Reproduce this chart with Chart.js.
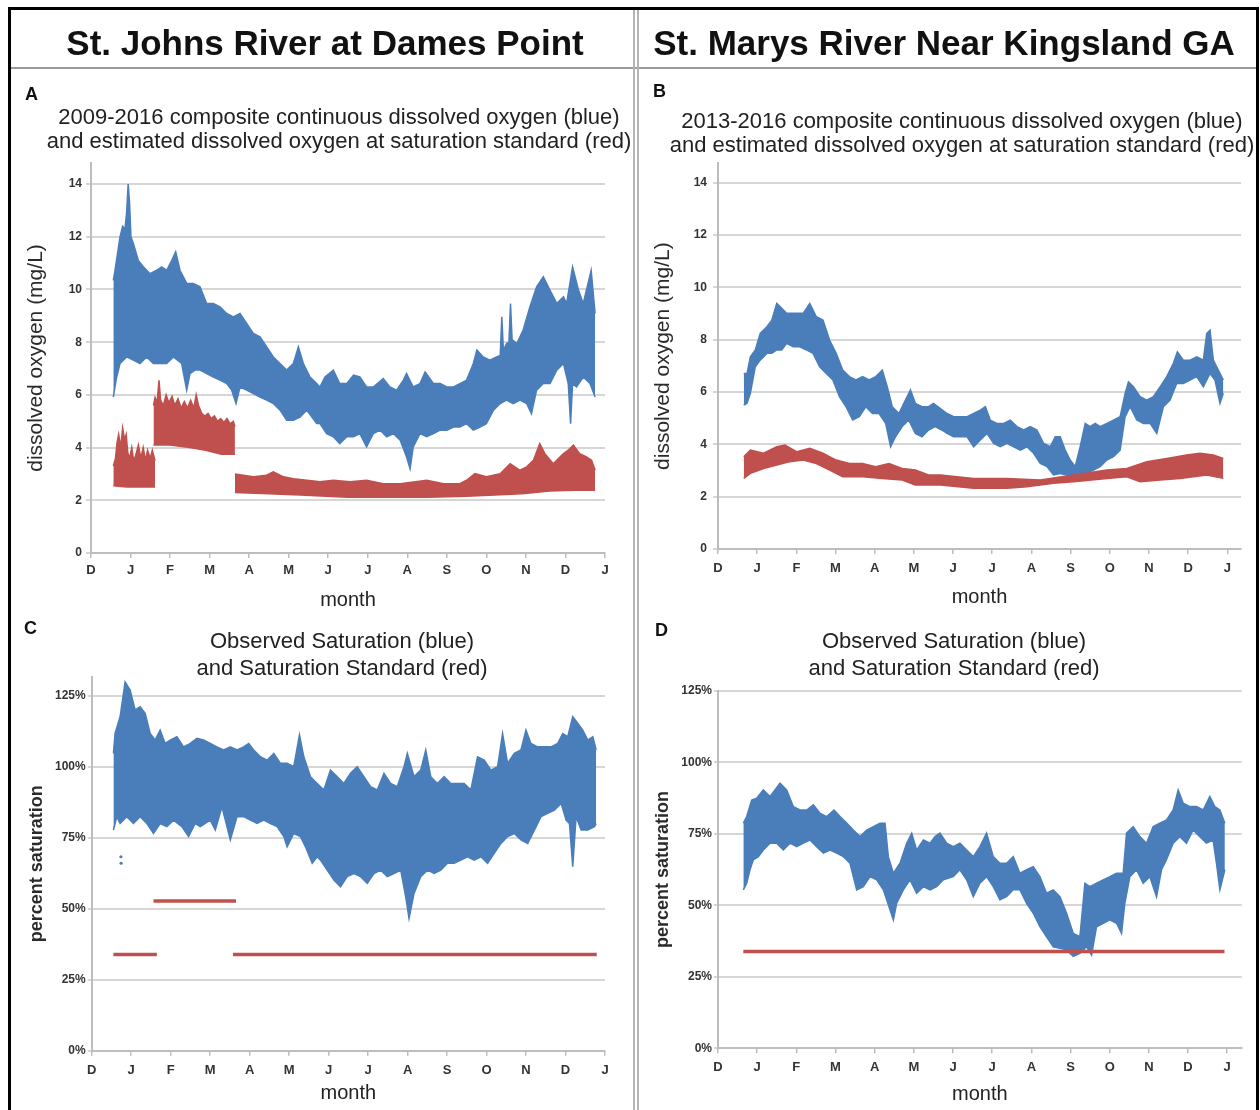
<!DOCTYPE html>
<html lang="en">
<head>
<meta charset="utf-8">
<title>Dissolved oxygen: St. Johns River and St. Marys River</title>
<script src="https://cdn.jsdelivr.net/npm/chart.js@4.4.1/dist/chart.umd.min.js"></script>
<style>
  html, body { margin: 0; padding: 0; background: #fff; }
  #figure { position: relative; width: 1260px; height: 1110px; overflow: hidden; background: #fff;
            font-family: 'Liberation Sans', Arial, Helvetica, sans-serif; color: #1a1a1a; }
  #figure canvas { position: absolute; }
  .frame { position: absolute; left: 8px; top: 7px; width: 1251px; height: 1130px; border: 3px solid #000; box-sizing: border-box; }
  .rule-h { position: absolute; left: 11px; top: 67px; width: 1245px; height: 2px; background: #9a9a9a; }
  .rule-v { position: absolute; top: 10px; width: 2px; height: 1110px; background: #b4b4b4; }
  .station { position: absolute; top: 23px; width: 600px; text-align: center; font-size: 35px; line-height: 40px;
             font-weight: bold; color: #111; white-space: nowrap; }
  .tag { position: absolute; font-size: 18px; line-height: 20px; font-weight: bold; color: #111; }
  .caption { position: absolute; width: 640px; text-align: center; font-size: 22px; color: #222; white-space: nowrap; }
</style>
</head>
<body>
<div id="figure">
  <canvas id="panelA" width="625" height="465" style="left:10px;top:150px"></canvas>
  <canvas id="panelB" width="620" height="465" style="left:640px;top:150px"></canvas>
  <canvas id="panelC" width="625" height="470" style="left:10px;top:640px"></canvas>
  <canvas id="panelD" width="620" height="470" style="left:640px;top:640px"></canvas>

  <div class="frame"></div>
  <div class="rule-h"></div>
  <div class="rule-v" style="left:633px"></div>
  <div class="rule-v" style="left:637px"></div>

  <div class="station" style="left:25px">St. Johns River at Dames Point</div>
  <div class="station" style="left:644px">St. Marys River Near Kingsland GA</div>

  <div class="tag" style="left:25px;top:84px">A</div>
  <div class="tag" style="left:653px;top:81px">B</div>
  <div class="tag" style="left:24px;top:618px">C</div>
  <div class="tag" style="left:655px;top:620px">D</div>

  <div class="caption" style="left:19px;top:105px;line-height:24px">2009-2016 composite continuous dissolved oxygen (blue)<br>and estimated dissolved oxygen at saturation standard (red)</div>
  <div class="caption" style="left:642px;top:109px;line-height:24px">2013-2016 composite continuous dissolved oxygen (blue)<br>and estimated dissolved oxygen at saturation standard (red)</div>
  <div class="caption" style="left:22px;top:627px;line-height:27px">Observed Saturation (blue)<br>and Saturation Standard (red)</div>
  <div class="caption" style="left:634px;top:627px;line-height:27px">Observed Saturation (blue)<br>and Saturation Standard (red)</div>
</div>

<script>
// Month axis: position 0 = start of December, 13 = start of the following January
const monthLabels = ['D', 'J', 'F', 'M', 'A', 'M', 'J', 'J', 'A', 'S', 'O', 'N', 'D', 'J'];
const doTickValues = [0, 2, 4, 6, 8, 10, 12, 14];
const pctTickValues = [0, 25, 50, 75, 100, 125];

// ---- St. Johns River at Dames Point: dissolved oxygen (mg/L), [month, value] ----
const stJohnsDoHigh = [
  [0.565,10.35],[0.607,10.73],[0.734,12.0],[0.80,12.4],[0.86,12.3],[0.90,12.9],[0.94,14.0],[0.975,13.3],[1.01,12.0],
  [1.071,11.75],[1.197,11.1],[1.324,10.86],[1.492,10.6],[1.661,10.73],[1.788,10.86],[1.914,10.73],[2.04,11.1],
  [2.142,11.43],[2.251,10.73],[2.42,10.23],[2.589,10.23],[2.757,10.1],[2.926,9.47],[3.094,9.47],[3.263,9.34],
  [3.432,9.09],[3.6,8.96],[3.769,9.09],[3.938,8.71],[4.106,8.33],[4.275,8.2],[4.444,7.82],[4.612,7.44],[4.781,7.19],
  [4.949,6.94],[5.118,7.19],[5.245,7.82],[5.371,7.19],[5.54,6.68],[5.708,6.43],[5.79,6.3],[5.917,6.68],[6.13,6.94],
  [6.29,6.43],[6.47,6.43],[6.64,6.75],[6.8,6.68],[6.97,6.3],[7.14,6.3],[7.39,6.62],[7.56,6.3],[7.73,6.18],[7.9,6.56],
  [7.98,6.81],[8.15,6.3],[8.32,6.43],[8.45,6.87],[8.66,6.43],[8.83,6.43],[9.0,6.3],[9.17,6.3],[9.33,6.43],[9.5,6.56],
  [9.67,7.19],[9.76,7.7],[9.92,7.44],[10.09,7.32],[10.26,7.44],[10.35,7.5],[10.39,8.96],[10.43,7.7],[10.51,7.95],
  [10.57,8.0],[10.61,9.47],[10.65,8.1],[10.77,7.95],[10.93,8.46],[11.1,9.34],[11.27,10.1],[11.44,10.48],[11.61,9.97],
  [11.78,9.47],[11.95,9.72],[12.03,9.47],[12.18,10.86],[12.33,9.97],[12.45,9.47],[12.65,10.73],[12.75,9.09]
];
const stJohnsDoLow = [
  [0.565,5.92],[0.649,6.68],[0.734,7.19],[0.902,7.44],[1.071,7.32],[1.239,7.19],[1.408,7.44],[1.577,7.19],[1.745,7.19],
  [1.914,7.19],[2.083,7.44],[2.293,7.19],[2.42,6.18],[2.504,6.81],[2.63,6.94],[2.757,6.94],[2.926,6.81],[3.094,6.68],
  [3.263,6.56],[3.432,6.43],[3.558,6.18],[3.668,5.67],[3.769,6.3],[3.938,6.18],[4.106,6.05],[4.275,5.92],[4.444,5.8],
  [4.612,5.67],[4.781,5.42],[4.949,5.04],[5.118,5.04],[5.287,5.16],[5.455,5.42],[5.708,4.91],[5.79,4.91],[5.96,4.53],
  [6.13,4.41],[6.29,4.15],[6.47,4.41],[6.64,4.41],[6.8,4.53],[6.97,4.03],[7.14,4.53],[7.31,4.66],[7.48,4.41],[7.65,4.53],
  [7.82,4.28],[7.98,3.65],[8.07,3.2],[8.15,4.03],[8.32,4.53],[8.49,4.41],[8.66,4.53],[8.83,4.66],[9.0,4.66],[9.17,4.78],
  [9.33,4.78],[9.5,4.91],[9.67,4.66],[9.84,4.78],[10.0,4.91],[10.18,5.42],[10.35,5.67],[10.51,5.8],[10.68,5.67],
  [10.85,5.8],[11.02,5.67],[11.14,5.29],[11.27,6.18],[11.44,6.43],[11.61,6.43],[11.78,6.94],[11.95,7.19],[12.07,6.43],
  [12.13,4.91],[12.18,6.43],[12.28,6.3],[12.45,6.68],[12.62,6.43],[12.75,5.92]
];
// estimated DO at the saturation standard, three standard periods
const stJohnsStd1High = [
  [0.565,3.3],[0.62,3.6],[0.66,4.2],[0.70,4.5],[0.75,4.0],[0.80,4.75],[0.85,4.3],[0.89,4.5],[0.93,3.8],[0.98,3.6],
  [1.03,4.0],[1.08,3.5],[1.13,3.7],[1.20,4.1],[1.26,3.6],[1.32,4.0],[1.38,3.5],[1.43,3.9],[1.50,3.6],[1.55,3.9],[1.62,3.5]
];
const stJohnsStd1Low = [[0.565,2.55],[0.9,2.5],[1.3,2.5],[1.62,2.5]];
const stJohnsStd2High = [
  [1.58,5.6],[1.62,5.9],[1.67,5.7],[1.72,6.55],[1.76,5.8],[1.83,5.6],[1.9,6.0],[1.97,5.7],[2.05,5.95],[2.12,5.6],
  [2.2,5.85],[2.28,5.5],[2.36,5.75],[2.44,5.5],[2.52,5.8],[2.6,5.5],[2.66,6.0],[2.72,5.6],[2.8,5.3],[2.88,5.2],
  [2.96,5.3],[3.04,5.1],[3.12,5.2],[3.2,5.0],[3.28,5.1],[3.36,4.95],[3.44,5.1],[3.52,4.9],[3.6,5.0],[3.64,4.8]
];
const stJohnsStd2Low = [[1.58,4.1],[2.0,4.1],[2.5,4.0],[2.9,3.9],[3.3,3.75],[3.64,3.75]];
const stJohnsStd3High = [
  [3.64,3.0],[3.85,2.95],[4.11,2.89],[4.44,2.95],[4.61,3.08],[4.87,2.89],[5.12,2.82],[5.46,2.76],[5.79,2.7],[6.13,2.76],
  [6.55,2.7],[6.97,2.76],[7.39,2.63],[7.82,2.63],[8.49,2.76],[8.92,2.63],[9.33,2.63],[9.5,2.76],[9.71,3.01],[10.0,2.89],
  [10.35,3.01],[10.6,3.39],[10.85,3.14],[11.02,3.27],[11.19,3.52],[11.35,4.15],[11.48,3.77],[11.69,3.39],[11.95,3.77],
  [12.07,3.9],[12.2,4.09],[12.36,3.77],[12.53,3.65],[12.66,3.52],[12.75,3.14]
];
const stJohnsStd3Low = [
  [3.64,2.3],[4.5,2.25],[5.3,2.2],[6.5,2.12],[7.5,2.12],[8.5,2.12],[9.5,2.15],[10.2,2.2],[10.9,2.25],[11.6,2.35],
  [12.2,2.38],[12.75,2.38]
];

// ---- St. Marys River near Kingsland GA: dissolved oxygen (mg/L) ----
const stMarysDoHigh = [
  [0.657,6.71],[0.741,6.71],[0.826,7.35],[0.952,7.61],[1.078,8.24],[1.247,8.5],[1.373,8.75],[1.5,9.39],[1.626,9.2],
  [1.752,9.01],[1.921,9.01],[2.047,9.01],[2.174,9.01],[2.342,9.39],[2.511,8.88],[2.679,8.75],[2.848,7.99],[3.016,7.48],
  [3.184,6.84],[3.353,6.59],[3.521,6.46],[3.69,6.59],[3.858,6.46],[4.027,6.59],[4.195,6.84],[4.322,6.2],[4.448,5.44],
  [4.617,5.18],[4.785,5.69],[4.912,6.08],[5.038,5.57],[5.206,5.44],[5.375,5.44],[5.501,5.57],[5.67,5.38],[5.847,5.18],
  [6.017,5.06],[6.187,5.06],[6.357,5.06],[6.526,5.18],[6.696,5.31],[6.824,5.44],[6.951,4.93],[7.121,4.8],[7.291,4.8],
  [7.461,4.93],[7.631,4.68],[7.801,4.55],[7.971,4.68],[8.141,4.55],[8.311,4.04],[8.48,3.91],[8.608,4.29],[8.735,4.29],
  [8.863,3.78],[8.99,3.4],[9.118,3.15],[9.245,3.91],[9.373,4.8],[9.5,4.68],[9.628,4.8],[9.755,4.68],[9.925,4.8],
  [10.095,4.93],[10.265,5.06],[10.392,5.95],[10.477,6.39],[10.605,6.2],[10.775,5.82],[10.944,5.69],[11.114,5.82],
  [11.284,6.2],[11.454,6.59],[11.624,7.1],[11.726,7.54],[11.879,7.22],[12.049,7.22],[12.219,7.35],[12.389,7.22],
  [12.474,8.24],[12.559,8.37],[12.644,7.22],[12.771,6.84],[12.899,6.46]
];
const stMarysDoLow = [
  [0.657,5.5],[0.741,5.57],[0.826,5.95],[0.952,6.97],[1.078,7.22],[1.247,7.48],[1.373,7.48],[1.5,7.61],[1.626,7.61],
  [1.752,7.86],[1.921,7.73],[2.089,7.73],[2.258,7.61],[2.426,7.48],[2.595,6.97],[2.763,6.71],[2.932,6.46],[3.1,5.82],
  [3.269,5.44],[3.437,4.93],[3.606,5.06],[3.774,5.44],[3.943,5.18],[4.111,5.18],[4.28,4.8],[4.406,3.91],[4.532,4.29],
  [4.701,4.68],[4.869,4.93],[5.038,4.42],[5.206,4.29],[5.375,4.55],[5.543,4.68],[5.712,4.55],[5.847,4.42],[6.017,4.29],
  [6.187,4.29],[6.357,4.29],[6.526,3.91],[6.696,4.17],[6.866,4.42],[7.036,4.04],[7.206,3.91],[7.376,4.04],[7.546,3.91],
  [7.716,3.78],[7.886,3.91],[8.056,3.66],[8.226,3.27],[8.396,3.15],[8.565,2.83],[8.735,2.89],[8.905,2.83],[9.075,2.76],
  [9.245,2.83],[9.415,2.89],[9.585,3.02],[9.755,3.15],[9.925,3.4],[10.095,3.53],[10.265,3.78],[10.392,5.06],[10.52,5.44],
  [10.69,4.93],[10.86,4.8],[11.03,4.8],[11.2,4.42],[11.284,4.93],[11.369,5.44],[11.539,5.69],[11.709,6.33],[11.879,6.33],
  [12.049,6.46],[12.219,6.59],[12.389,6.2],[12.559,6.71],[12.686,6.46],[12.814,5.57],[12.899,5.95]
];
const stMarysStdHigh = [
  [0.657,3.53],[0.826,3.78],[1.163,3.66],[1.5,3.91],[1.71,3.97],[2.005,3.72],[2.342,3.85],[2.679,3.66],[3.016,3.4],
  [3.353,3.27],[3.69,3.27],[4.027,3.15],[4.364,3.27],[4.701,3.08],[5.038,3.02],[5.375,2.83],[5.677,2.83],[6.526,2.7],
  [7.376,2.7],[8.226,2.64],[9.075,2.83],[9.925,3.02],[10.435,3.08],[10.944,3.34],[11.454,3.46],[11.964,3.59],
  [12.304,3.66],[12.644,3.59],[12.899,3.46]
];
const stMarysStdLow = [
  [0.657,2.7],[0.826,2.89],[1.163,3.08],[1.5,3.21],[1.837,3.34],[2.174,3.4],[2.511,3.27],[2.848,3.02],[3.184,2.76],
  [3.69,2.76],[4.195,2.7],[4.701,2.64],[5.038,2.45],[5.375,2.45],[5.677,2.45],[6.526,2.32],[7.376,2.32],[7.886,2.38],
  [8.565,2.51],[9.075,2.57],[9.925,2.7],[10.435,2.76],[10.775,2.57],[11.284,2.64],[11.794,2.7],[12.474,2.83],[12.899,2.7]
];

// ---- St. Johns River: percent saturation ----
const stJohnsSatHigh = [
  [0.55,104.7],[0.592,111.7],[0.719,117.6],[0.846,129.9],[0.973,127.0],[1.1,120.0],[1.227,121.1],[1.354,118.8],
  [1.481,111.7],[1.607,109.4],[1.734,112.9],[1.861,108.2],[1.988,109.4],[2.157,110.6],[2.327,107.0],[2.496,108.2],
  [2.665,110.0],[2.834,109.4],[3.003,108.2],[3.173,107.0],[3.342,105.9],[3.511,107.0],[3.68,105.9],[3.849,107.0],
  [3.976,108.2],[4.103,105.9],[4.272,103.5],[4.442,102.3],[4.611,104.7],[4.78,101.2],[4.949,101.2],[5.118,100.0],
  [5.262,111.2],[5.372,103.5],[5.541,96.5],[5.711,94.1],[5.879,91.8],[6.046,98.8],[6.216,96.5],[6.386,94.1],
  [6.555,97.7],[6.724,100.0],[6.894,96.5],[7.063,93.0],[7.232,91.8],[7.402,97.7],[7.571,94.1],[7.74,93.0],
  [7.909,100.0],[7.994,104.7],[8.164,96.5],[8.333,98.8],[8.46,105.9],[8.587,96.5],[8.756,94.1],[8.925,96.5],
  [9.095,94.1],[9.264,94.1],[9.433,94.1],[9.602,91.8],[9.772,103.5],[9.941,102.3],[10.11,98.8],[10.28,100.0],
  [10.406,111.7],[10.533,101.2],[10.702,104.7],[10.871,105.9],[10.998,112.9],[11.124,108.2],[11.294,107.0],
  [11.463,107.0],[11.632,107.0],[11.802,108.2],[11.929,111.7],[12.056,110.6],[12.183,117.6],[12.31,115.3],
  [12.437,112.9],[12.564,109.4],[12.691,110.6],[12.776,105.9]
];
const stJohnsSatLow = [
  [0.55,77.7],[0.635,82.4],[0.719,80.0],[0.888,82.4],[1.058,80.0],[1.227,82.4],[1.396,80.0],[1.565,76.5],[1.734,80.0],
  [1.904,78.9],[2.073,81.2],[2.284,78.9],[2.453,75.4],[2.623,80.0],[2.75,78.9],[3.003,81.2],[3.13,77.7],[3.299,85.9],
  [3.511,74.2],[3.68,82.4],[3.849,82.4],[4.019,81.2],[4.188,80.0],[4.357,81.2],[4.526,80.0],[4.695,78.9],[4.865,75.4],
  [4.949,71.8],[5.118,76.5],[5.288,75.4],[5.415,71.8],[5.584,66.0],[5.711,68.3],[5.794,67.1],[5.964,63.6],[6.133,60.1],
  [6.302,57.7],[6.471,61.3],[6.641,62.4],[6.81,61.3],[6.979,58.9],[7.149,62.4],[7.318,63.6],[7.487,61.3],[7.656,62.4],
  [7.826,63.6],[7.953,54.2],[8.037,46.6],[8.164,55.4],[8.333,61.3],[8.503,63.6],[8.672,62.4],[8.841,63.6],[9.01,66.0],
  [9.18,66.0],[9.349,67.1],[9.518,68.3],[9.687,67.1],[9.857,68.3],[10.026,66.0],[10.195,69.5],[10.365,73.0],
  [10.534,75.4],[10.703,76.5],[10.872,74.2],[11.042,73.0],[11.211,77.7],[11.38,82.4],[11.55,83.6],[11.719,84.7],
  [11.888,87.1],[12.015,81.2],[12.1,80.0],[12.183,64.8],[12.268,82.4],[12.395,77.7],[12.564,77.7],[12.733,78.9],
  [12.776,80.0]
];
const stJohnsSatStray = [[0.74,68.3],[0.745,66.0]];
// saturation standard: [from month, to month, percent]
const stJohnsStandard = [[0.55,1.65,33.9],[1.565,3.655,52.7],[3.58,12.79,33.9]];

// ---- St. Marys River: percent saturation ----
const stMarysSatHigh = [
  [0.647,78.7],[0.732,81.0],[0.86,86.8],[0.987,87.4],[1.157,90.3],[1.328,88.0],[1.455,90.3],[1.583,92.7],[1.753,90.3],
  [1.923,84.5],[2.094,83.3],[2.264,83.3],[2.434,85.1],[2.604,82.2],[2.774,81.0],[2.962,83.3],[3.115,81.0],[3.285,78.7],
  [3.455,76.3],[3.626,74.0],[3.796,76.3],[3.966,77.5],[4.136,78.7],[4.264,78.7],[4.349,67.0],[4.477,61.2],[4.647,64.7],
  [4.817,71.7],[4.945,75.2],[5.072,69.3],[5.243,72.8],[5.413,71.7],[5.54,74.0],[5.668,75.2],[5.838,71.7],[6.006,70.5],
  [6.176,71.7],[6.347,69.3],[6.517,67.0],[6.687,70.5],[6.857,75.2],[7.027,67.0],[7.197,64.7],[7.368,64.7],[7.538,67.0],
  [7.708,61.2],[7.878,62.4],[8.048,63.5],[8.218,60.0],[8.388,54.2],[8.559,55.4],[8.729,53.0],[8.899,47.2],[9.069,40.2],
  [9.239,39.0],[9.366,57.7],[9.494,56.5],[9.664,57.7],[9.834,58.9],[10.004,60.0],[10.174,61.2],[10.344,61.2],
  [10.429,75.2],[10.6,77.5],[10.77,74.0],[10.94,71.7],[11.11,77.5],[11.28,78.7],[11.45,79.8],[11.62,83.3],
  [11.748,90.3],[11.876,85.7],[12.046,84.5],[12.216,84.5],[12.386,83.3],[12.556,88.0],[12.684,84.5],[12.813,83.3],
  [12.94,78.7]
];
const stMarysSatLow = [
  [0.647,55.4],[0.732,57.7],[0.817,62.4],[0.902,65.9],[1.03,67.0],[1.157,69.3],[1.328,71.7],[1.498,71.7],[1.668,69.3],
  [1.838,71.7],[2.009,70.5],[2.179,71.7],[2.349,72.8],[2.519,70.5],[2.689,68.2],[2.86,69.3],[3.03,68.2],[3.2,67.0],
  [3.37,64.7],[3.54,55.4],[3.711,56.5],[3.881,60.0],[4.051,58.9],[4.221,55.4],[4.391,48.4],[4.477,44.9],[4.562,50.7],
  [4.732,55.4],[4.902,58.9],[5.072,54.2],[5.243,56.5],[5.413,55.4],[5.583,56.5],[5.753,58.9],[6.006,60.0],[6.176,62.4],
  [6.347,58.9],[6.517,53.0],[6.687,57.7],[6.857,60.0],[7.027,56.5],[7.197,51.9],[7.368,53.0],[7.538,55.4],[7.708,55.4],
  [7.878,50.7],[8.048,47.2],[8.218,42.5],[8.388,39.0],[8.559,35.5],[8.729,35.0],[8.899,34.4],[9.069,32.1],[9.239,33.2],
  [9.409,35.5],[9.537,32.6],[9.664,42.5],[9.834,43.7],[10.004,44.9],[10.174,43.7],[10.302,40.2],[10.387,50.7],
  [10.515,60.0],[10.685,62.4],[10.855,57.7],[11.025,60.0],[11.196,53.0],[11.323,62.4],[11.45,65.9],[11.62,71.7],
  [11.79,74.0],[11.96,71.7],[12.13,76.3],[12.3,74.0],[12.47,71.7],[12.64,72.8],[12.725,64.7],[12.813,55.4],[12.94,62.4]
];
const stMarysStandard = [[0.647,12.93,33.8]];

// ---- drawing ----
const FONT = "'Liberation Sans', Arial, Helvetica, sans-serif";
const BLUE = '#4a7ebb';
const RED = '#c0504d';
const GRID = '#d6d6d6';
const AXIS = '#bdbdbd';
const INK = '#333333';

const toPoints = pairs => pairs.map(([x, y]) => ({ x, y }));

// observations spread between a low and a high envelope, shaded between them
function band(low, high, color) {
  const common = { borderColor: color, backgroundColor: color, borderWidth: 1.5, pointRadius: 0, tension: 0 };
  return [
    Object.assign({ data: toPoints(low), fill: false }, common),
    Object.assign({ data: toPoints(high), fill: '-1' }, common)
  ];
}

function standardLines(periods) {
  return periods.map(([from, to, pct]) => ({
    data: [{ x: from, y: pct }, { x: to, y: pct }],
    borderColor: RED, borderWidth: 3.5, pointRadius: 0, fill: false
  }));
}

function strayPoints(pairs) {
  return { type: 'scatter', data: toPoints(pairs), pointRadius: 1.6, pointBackgroundColor: BLUE,
           pointBorderWidth: 0, showLine: false };
}

function buildChart(id, p) {
  new Chart(document.getElementById(id), {
    type: 'line',
    data: { datasets: p.datasets },
    options: {
      responsive: false,
      animation: false,
      devicePixelRatio: 1,
      events: [],
      layout: { padding: { top: p.padTop, right: p.padRight, bottom: 0, left: 0 } },
      plugins: { legend: { display: false }, tooltip: { enabled: false }, title: { display: false } },
      scales: {
        x: {
          type: 'linear', min: 0, max: p.xMax,
          afterBuildTicks: s => { s.ticks = monthLabels.map((_, i) => ({ value: i })); },
          afterFit: s => { s.height = p.xHeight; },
          ticks: {
            callback: v => monthLabels[v], autoSkip: false, maxRotation: 0,
            font: { family: FONT, size: 13, weight: 'bold' }, color: INK, padding: p.xTickPad
          },
          grid: { drawOnChartArea: false, tickLength: 5, color: AXIS, lineWidth: 1.5 },
          border: { display: true, color: AXIS, width: 2 },
          title: {
            display: true, text: 'month', color: '#222',
            font: { family: FONT, size: 20 }, padding: { top: 0, bottom: p.xTitlePad }
          }
        },
        y: {
          type: 'linear', min: 0, max: p.yMax,
          afterBuildTicks: s => { s.ticks = p.yTicks.map(v => ({ value: v })); },
          afterFit: s => { s.width = p.yWidth; },
          ticks: {
            callback: p.yFormat,
            font: { family: FONT, size: 12, weight: 'bold' }, color: INK, padding: p.yTickPad
          },
          grid: { color: GRID, lineWidth: 2, tickLength: p.yTickLen, tickColor: GRID },
          border: { display: true, color: AXIS, width: 2 },
          title: {
            display: true, text: p.yTitle, color: '#2a2a2a',
            font: Object.assign({ family: FONT }, p.yTitleFont), padding: { top: p.yTitlePad, bottom: 0 }
          }
        }
      }
    }
  });
}

buildChart('panelA', {
  datasets: [
    ...band(stJohnsStd1Low, stJohnsStd1High, RED),
    ...band(stJohnsStd2Low, stJohnsStd2High, RED),
    ...band(stJohnsStd3Low, stJohnsStd3High, RED),
    ...band(stJohnsDoLow, stJohnsDoHigh, BLUE)
  ],
  padTop: 13, padRight: 30,
  xMax: 13, xHeight: 62, xTickPad: 5, xTitlePad: 3,
  yMax: 14.8, yTicks: doTickValues, yFormat: v => String(v), yWidth: 81, yTickPad: 4, yTickLen: 5,
  yTitle: 'dissolved oxygen (mg/L)', yTitleFont: { size: 21 }, yTitlePad: 14
});

buildChart('panelB', {
  datasets: [
    ...band(stMarysStdLow, stMarysStdHigh, RED),
    ...band(stMarysDoLow, stMarysDoHigh, BLUE)
  ],
  padTop: 13, padRight: 19,
  xMax: 13.35, xHeight: 66, xTickPad: 6.5, xTitlePad: 6,
  yMax: 14.75, yTicks: doTickValues, yFormat: v => String(v), yWidth: 78, yTickPad: 6, yTickLen: 5,
  yTitle: 'dissolved oxygen (mg/L)', yTitleFont: { size: 21 }, yTitlePad: 11
});

buildChart('panelC', {
  datasets: [
    ...standardLines(stJohnsStandard),
    strayPoints(stJohnsSatStray),
    ...band(stJohnsSatLow, stJohnsSatHigh, BLUE)
  ],
  padTop: 36.7, padRight: 30,
  xMax: 13, xHeight: 59.3, xTickPad: 6.5, xTitlePad: 5,
  yMax: 131.7, yTicks: pctTickValues, yFormat: v => v + '%', yWidth: 81.7, yTickPad: 2, yTickLen: 4,
  yTitle: 'percent saturation', yTitleFont: { size: 18, weight: 'bold' }, yTitlePad: 16
});

buildChart('panelD', {
  datasets: [
    ...standardLines(stMarysStandard),
    ...band(stMarysSatLow, stMarysSatHigh, BLUE)
  ],
  padTop: 50.7, padRight: 18.3,
  xMax: 13.37, xHeight: 61.7, xTickPad: 6, xTitlePad: 4,
  yMax: 125, yTicks: pctTickValues, yFormat: v => v + '%', yWidth: 78, yTickPad: 2, yTickLen: 4,
  yTitle: 'percent saturation', yTitleFont: { size: 18, weight: 'bold' }, yTitlePad: 12.5
});
</script>
</body>
</html>
